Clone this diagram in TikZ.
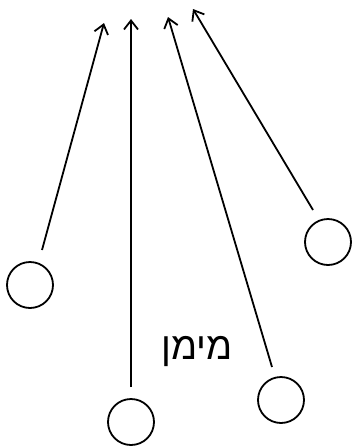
\documentclass[tikz,border=0pt]{standalone}
\usepackage{fontspec}
\newfontfamily\hebfont[Script=Hebrew]{Liberation Sans}
\TeXXeTstate=1
\usetikzlibrary{arrows.meta}

\begin{document}
\begin{tikzpicture}[x=1pt,y=-1pt,
    ball/.style={draw,circle,line width=1.8pt,minimum size=46pt,inner sep=0pt},
    ray/.style={-{Straight Barb[length=9pt,width=14pt]},line width=1.8pt}]
      \useasboundingbox (0,0) rectangle (354,448);
      % the four balls
      \node[ball] (ballA) at (30,285) {};
      \node[ball] (ballB) at (131,422) {};
      \node[ball] (ballC) at (281,400) {};
      \node[ball] (ballD) at (328,242) {};
      % free ends of the rays
      \coordinate (tailA) at (42,250);  \coordinate (headA) at (104,23);
      \coordinate (tailB) at (131,387); \coordinate (headB) at (131,19);
      \coordinate (tailC) at (272,367); \coordinate (headC) at (168,17);
      \coordinate (tailD) at (313,210); \coordinate (headD) at (193,9);
      \draw[ray] (tailA) -- (headA);
      \draw[ray] (tailB) -- (headB);
      \draw[ray] (tailC) -- (headC);
      \draw[ray] (tailD) -- (headD);
      \node (name) at (197,351) {\hebfont\fontsize{38}{40}\selectfont\beginR מימן\endR};
    \end{tikzpicture}
\end{document}
